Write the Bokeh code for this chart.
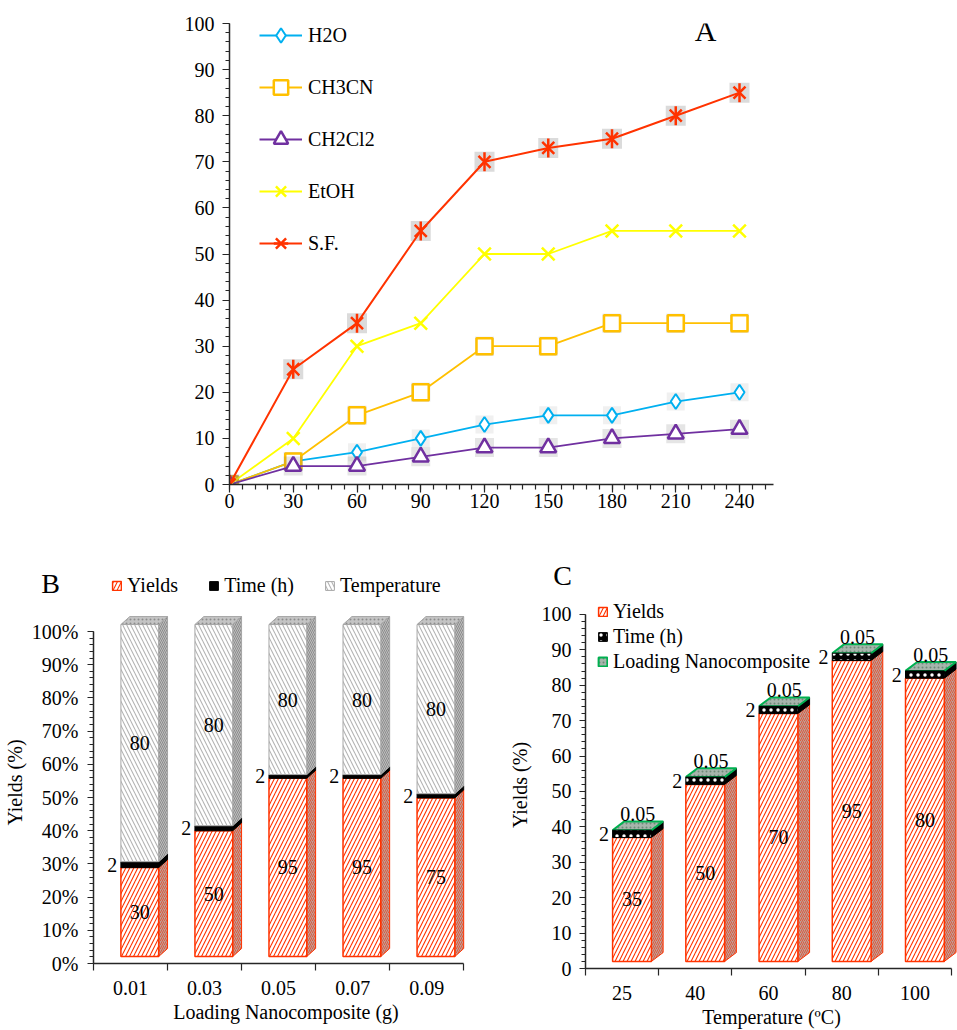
import numpy as np
from bokeh.plotting import figure
from bokeh.models import (Range1d, SingleIntervalTicker, FixedTicker, NumeralTickFormatter,
                          Legend, LegendItem, Label, ColumnDataSource)
from bokeh.layouts import column, row
from bokeh.embed import file_html
from bokeh.resources import INLINE
from bokeh.core.properties import value

FONT = "Liberation Serif"
FS = "20px"

# ---------------- Panel A data ----------------
times = [0, 30, 60, 90, 120, 150, 180, 210, 240]
h2o = [0, 5, 7, 10, 13, 15, 15, 18, 20]
ch3cn = [0, 5, 15, 20, 30, 30, 35, 35, 35]
ch2cl2 = [0, 4, 4, 6, 8, 8, 10, 11, 12]
etoh = [0, 10, 30, 35, 50, 50, 55, 55, 55]
sf = [0, 25, 35, 55, 70, 73, 75, 80, 85]
solvent_names = ["H2O", "CH3CN", "CH2Cl2", "EtOH", "S.F."]

# ---------------- Panel B data ----------------
loading_labels = ["0.01", "0.03", "0.05", "0.07", "0.09"]
b_yields = [30, 50, 95, 95, 75]
b_time = [2, 2, 2, 2, 2]
b_temp = [80, 80, 80, 80, 80]
b_series = ["Yields", "Time (h)", "Temperature"]

# ---------------- Panel C data ----------------
temp_labels = ["25", "40", "60", "80", "100"]
c_yields = [35, 50, 70, 85, 80]
c_yield_labels = ["35", "50", "70", "95", "80"]
c_time = [2, 2, 2, 2, 2]
c_loading = [0.05, 0.05, 0.05, 0.05, 0.05]
c_series = ["Yields", "Time (h)", "Loading Nanocomposite"]

AXIS_COLOR = "#262626"
RED = "#FF3300"

# styles
YIELD_FRONT = dict(fill_color="white", hatch_pattern="/", hatch_color=RED, hatch_scale=8,
                   hatch_weight=1.1, line_color=RED, line_width=1.5)
TIME_FRONT_B = dict(fill_color="black", line_color="black")
TEMP_FRONT = dict(fill_color="white", hatch_pattern="\\", hatch_color="#B4B4B4", hatch_scale=8,
                  hatch_weight=1.1, line_color="#A6A6A6", line_width=1)
TIME_FRONT_C = dict(fill_color="black", hatch_pattern=".", hatch_color="white", hatch_scale=7,
                    hatch_weight=1.5, line_color="black")
LOAD_TOP = dict(fill_color="#A7B5AC", hatch_pattern=".", hatch_color="#6E8A78", hatch_scale=4,
                line_color="#00B050", line_width=2)
YIELD_SIDE = dict(fill_color="#B9A29C", hatch_pattern="/", hatch_color="#E2583A", hatch_scale=4,
                  line_color=RED, line_width=1)
TEMP_SIDE = dict(fill_color="#BDBDBD", hatch_pattern="\\", hatch_color="#8C8C8C", hatch_scale=4,
                 line_color="#A6A6A6", line_width=1)
GRAY_TOP = dict(fill_color="#C4C4C4", hatch_pattern=".", hatch_color="#8C8C8C", hatch_scale=4,
                line_color="#A6A6A6", line_width=1)


def style_axes(p):
    p.xgrid.visible = False
    p.ygrid.visible = False
    p.outline_line_color = None
    for ax in (p.xaxis[0], p.yaxis[0]):
        ax.axis_line_color = AXIS_COLOR
        ax.axis_line_width = 1.5
        ax.major_tick_line_color = AXIS_COLOR
        ax.minor_tick_line_color = AXIS_COLOR
        ax.major_tick_line_width = 1.2
        ax.minor_tick_line_width = 1.2
        ax.major_tick_in = 0
        ax.minor_tick_in = 0
        ax.major_label_text_font = FONT
        ax.major_label_text_font_size = FS
        ax.major_label_text_color = "black"
        ax.axis_label_text_font = FONT
        ax.axis_label_text_font_size = FS
        ax.axis_label_text_font_style = "normal"
        ax.axis_label_text_color = "black"


def legend_kw():
    return dict(padding=0, margin=0, border_line_color=None, background_fill_alpha=0,
                label_text_font=FONT, label_text_font_size=FS, label_text_color="black")


# =============== Panel A =================
pA = figure(width=957, height=525, x_range=Range1d(0, 256), y_range=Range1d(0, 100),
            output_backend="svg", toolbar_location=None, frame_align=False,
            min_border_left=229, min_border_right=184, min_border_top=23, min_border_bottom=41)
style_axes(pA)
pA.yaxis.ticker = SingleIntervalTicker(interval=10, num_minor_ticks=5)
pA.xaxis.ticker = SingleIntervalTicker(interval=30, num_minor_ticks=5)
pA.yaxis.major_tick_out = 7
pA.yaxis.minor_tick_out = 4
pA.xaxis.major_tick_out = 8
pA.xaxis.minor_tick_out = 5
pA.yaxis.major_label_standoff = 8
pA.xaxis.major_label_standoff = 1

series = [
    (h2o, "#00B0F0", "diamond", 15, 2.0, 0.10),
    (ch3cn, "#FFC000", "square", 16, 2.5, 0.22),
    (ch2cl2, "#7030A0", "triangle", 16, 2.5, 0.18),
    (etoh, "#FFFF00", "x", 18, 2.5, 0.0),
    (sf, "#FF3300", "x", 17, 2.5, 0.25),
]
itemsA = []
for (vals, col, mk, sz, lw, sh), name in zip(series, solvent_names):
    src = ColumnDataSource(dict(x=times, y=vals))
    if sh > 0:
        pA.scatter("x", "y", source=src, marker="square", size=sz + 3,
                   fill_color="#707070", fill_alpha=sh, line_color=None)
    ln = pA.line("x", "y", source=src, line_color=col, line_width=1.8 if name != "S.F." else 2)
    rs = [ln]
    if mk == "x":
        m = pA.scatter("x", "y", source=src, marker="x", size=sz, line_color=col, line_width=lw)
        rs.append(m)
        if name == "S.F.":
            m2 = pA.scatter("x", "y", source=src, marker="dash", angle=np.pi / 2, size=sz + 2,
                            line_color=col, line_width=lw)
            rs.append(m2)
    else:
        m = pA.scatter("x", "y", source=src, marker=mk, size=sz, line_color=col,
                       fill_color="white", line_width=lw)
        rs.append(m)
    itemsA.append(LegendItem(label=name, renderers=rs))

legA = Legend(items=itemsA, location=(30, 223), orientation="vertical",
              glyph_width=43, glyph_height=36, label_height=20, label_standoff=6,
              spacing=16, **legend_kw())
pA.add_layout(legA, "center")
pA.add_layout(Label(x=224, y=98.5, text="A", text_font=FONT, text_font_size="30px",
                    text_align="center", text_baseline="middle", text_color="black"))

# =============== Strip with panel letters and legend of B =================
strip = figure(width=957, height=76, x_range=Range1d(0, 957), y_range=Range1d(0, 76),
               output_backend="svg", toolbar_location=None, x_axis_location=None,
               y_axis_location=None, frame_align=False, min_border=0, min_border_left=0,
               min_border_right=0, min_border_top=0, min_border_bottom=0)
strip.xgrid.visible = False
strip.ygrid.visible = False
strip.outline_line_color = None
# legend proxies (single off-view point so that the legend draws their swatches)
off = dict(left=[-20], right=[-10], bottom=[-20], top=[-10])
pxY = strip.quad(**off, **YIELD_FRONT)
pxT = strip.quad(**off, **TIME_FRONT_B)
pxTe = strip.quad(**off, **TEMP_FRONT)
legB = Legend(items=[LegendItem(label=n, renderers=[r]) for n, r in zip(b_series, [pxY, pxT, pxTe])],
              location=(111, 4), orientation="horizontal", glyph_width=11, glyph_height=11,
              label_standoff=5, spacing=30, **legend_kw())
strip.add_layout(legB, "center")
strip.add_layout(Label(x=50, y=18, text="B", text_font=FONT, text_font_size="28px",
                       text_align="center", text_baseline="middle", text_color="black"))
strip.add_layout(Label(x=562, y=26, text="C", text_font=FONT, text_font_size="28px",
                       text_align="center", text_baseline="middle", text_color="black"))

# =============== Panel B =================
pB = figure(width=480, height=429, x_range=Range1d(0, 5.2), y_range=Range1d(0, 1.0904),
            output_backend="svg", toolbar_location=None, frame_align=False,
            min_border_left=89, min_border_right=2, min_border_top=0, min_border_bottom=67)
style_axes(pB)
pB.yaxis.ticker = SingleIntervalTicker(interval=0.1, num_minor_ticks=5)
pB.yaxis.formatter = NumeralTickFormatter(format="0%")
pB.yaxis.bounds = (0, 1)
pB.yaxis.major_tick_out = 6
pB.yaxis.minor_tick_out = 4
pB.yaxis.major_label_standoff = 9
pB.yaxis.axis_label = "Yields (%)"
pB.yaxis.axis_label_standoff = 3
pB.xaxis.ticker = FixedTicker(ticks=[i + 0.5 for i in range(5)], minor_ticks=list(range(6)))
pB.xaxis.major_label_overrides = {i + 0.5: lab for i, lab in enumerate(loading_labels)}
pB.xaxis.bounds = (0, 5)
pB.xaxis.major_tick_out = 0
pB.xaxis.minor_tick_out = 7
pB.xaxis.major_label_standoff = 10
pB.xaxis.axis_label = "Loading Nanocomposite (g)"
pB.xaxis.axis_label_standoff = 3

by = np.array(b_yields, float)
bt = np.array(b_time, float)
bT = np.array(b_temp, float)
tot = by + bt + bT
idx = np.arange(5)
baseB = 0.021
lB = idx + 0.37
rB = idx + 0.88
dxB, dyB = 0.12, 0.024
y0 = np.full(5, baseB)
y1 = y0 + by / tot
y2 = y1 + bt / tot
y3 = y2 + bT / tot


def side_patches(r, a, b, dx, dy):
    xs = [[ri, ri + dx, ri + dx, ri] for ri in r]
    ys = [[ai, ai + dy, bi + dy, bi] for ai, bi in zip(a, b)]
    return xs, ys


def top_patches(l, r, t, dx, dy):
    xs = [[li, li + dx, ri + dx, ri] for li, ri in zip(l, r)]
    ys = [[ti, ti + dy, ti + dy, ti] for ti in t]
    return xs, ys


xs, ys = side_patches(rB, y0, y1, dxB, dyB)
pB.patches(xs, ys, **YIELD_SIDE)
xs, ys = side_patches(rB, y1, y2, dxB, dyB)
pB.patches(xs, ys, fill_color="black", line_color="black")
xs, ys = side_patches(rB, y2, y3, dxB, dyB)
pB.patches(xs, ys, **TEMP_SIDE)
xs, ys = top_patches(lB, rB, y3, dxB, dyB)
pB.patches(xs, ys, **GRAY_TOP)

pB.quad(left=lB, right=rB, bottom=y0, top=y1, **YIELD_FRONT)
pB.quad(left=lB, right=rB, bottom=y1, top=y2, **TIME_FRONT_B)
pB.quad(left=lB, right=rB, bottom=y2, top=y3, **TEMP_FRONT)

cB = (lB + rB) / 2
lab_src = ColumnDataSource(dict(
    x=list(cB) + list(cB),
    y=list((y0 + y1) / 2) + list((y2 + y3) / 2),
    t=[str(v) for v in b_yields] + [str(v) for v in b_temp]))
pB.text("x", "y", text="t", source=lab_src, text_font=value(FONT), text_font_size=FS,
        text_align="center", text_baseline="middle", text_color="black")
pB.text(x=lB - 0.05, y=(y1 + y2) / 2, text=[str(v) for v in b_time], text_font=value(FONT),
        text_font_size=FS, text_align="right", text_baseline="middle", text_color="black")

# =============== Panel C =================
pC = figure(width=477, height=429, x_range=Range1d(0, 5.08), y_range=Range1d(0, 103.65),
            output_backend="svg", toolbar_location=None, frame_align=False,
            min_border_left=105, min_border_right=0, min_border_top=0, min_border_bottom=60)
style_axes(pC)
pC.yaxis.ticker = SingleIntervalTicker(interval=10, num_minor_ticks=5)
pC.yaxis.bounds = (0, 100)
pC.yaxis.major_tick_out = 6
pC.yaxis.minor_tick_out = 4
pC.yaxis.major_label_standoff = 8
pC.yaxis.axis_label = "Yields (%)"
pC.yaxis.axis_label_standoff = 8
pC.xaxis.ticker = FixedTicker(ticks=[i + 0.5 for i in range(5)], minor_ticks=list(range(6)))
pC.xaxis.major_label_overrides = {i + 0.5: lab for i, lab in enumerate(temp_labels)}
pC.xaxis.bounds = (0, 5)
pC.xaxis.major_tick_out = 0
pC.xaxis.minor_tick_out = 7
pC.xaxis.major_label_standoff = 10
pC.xaxis.axis_label = "Temperature (ºC)"
pC.xaxis.axis_label_standoff = 3

cy = np.array(c_yields, float)
ct = np.array(c_time, float)
cl = np.array(c_loading, float)
baseC = 2.0
lC = idx + 0.37
rC = idx + 0.90
dxC, dyC = 0.16, 2.5
z0 = np.full(5, baseC)
z1 = z0 + cy
z2 = z1 + ct
z3 = z2 + cl

xs, ys = side_patches(rC, z0, z1, dxC, dyC)
pC.patches(xs, ys, **YIELD_SIDE)
xs, ys = side_patches(rC, z1, z3, dxC, dyC)
pC.patches(xs, ys, fill_color="black", line_color="black")
xs, ys = top_patches(lC, rC, z3, dxC, dyC)
rL = pC.patches(xs, ys, **LOAD_TOP)

rCY = pC.quad(left=lC, right=rC, bottom=z0, top=z1, **YIELD_FRONT)
rCT = pC.quad(left=lC, right=rC, bottom=z1, top=z3, **TIME_FRONT_C)

cC = (lC + rC) / 2
pC.text(x=cC, y=(z0 + z1) / 2, text=c_yield_labels, text_font=value(FONT), text_font_size=FS,
        text_align="center", text_baseline="middle", text_color="black")
pC.text(x=lC - 0.05, y=(z1 + z2) / 2, text=[str(v) for v in c_time], text_font=value(FONT),
        text_font_size=FS, text_align="right", text_baseline="middle", text_color="black")
pC.text(x=cC + dxC / 2, y=z3 + 4.5, text=[f"{v:.2f}" for v in c_loading], text_font=value(FONT),
        text_font_size=FS, text_align="center", text_baseline="middle", text_color="black")

legC = Legend(items=[LegendItem(label=n, renderers=[r]) for n, r in zip(c_series, [rCY, rCT, rL])],
              location=(12, 295), orientation="vertical", glyph_width=11, glyph_height=11,
              label_standoff=5, spacing=2, label_height=20, **legend_kw())
pC.add_layout(legC, "center")

layout = column(pA, row(strip), row(column(pB), column(pC)))
open("out.html", "w").write(file_html(layout, INLINE))
